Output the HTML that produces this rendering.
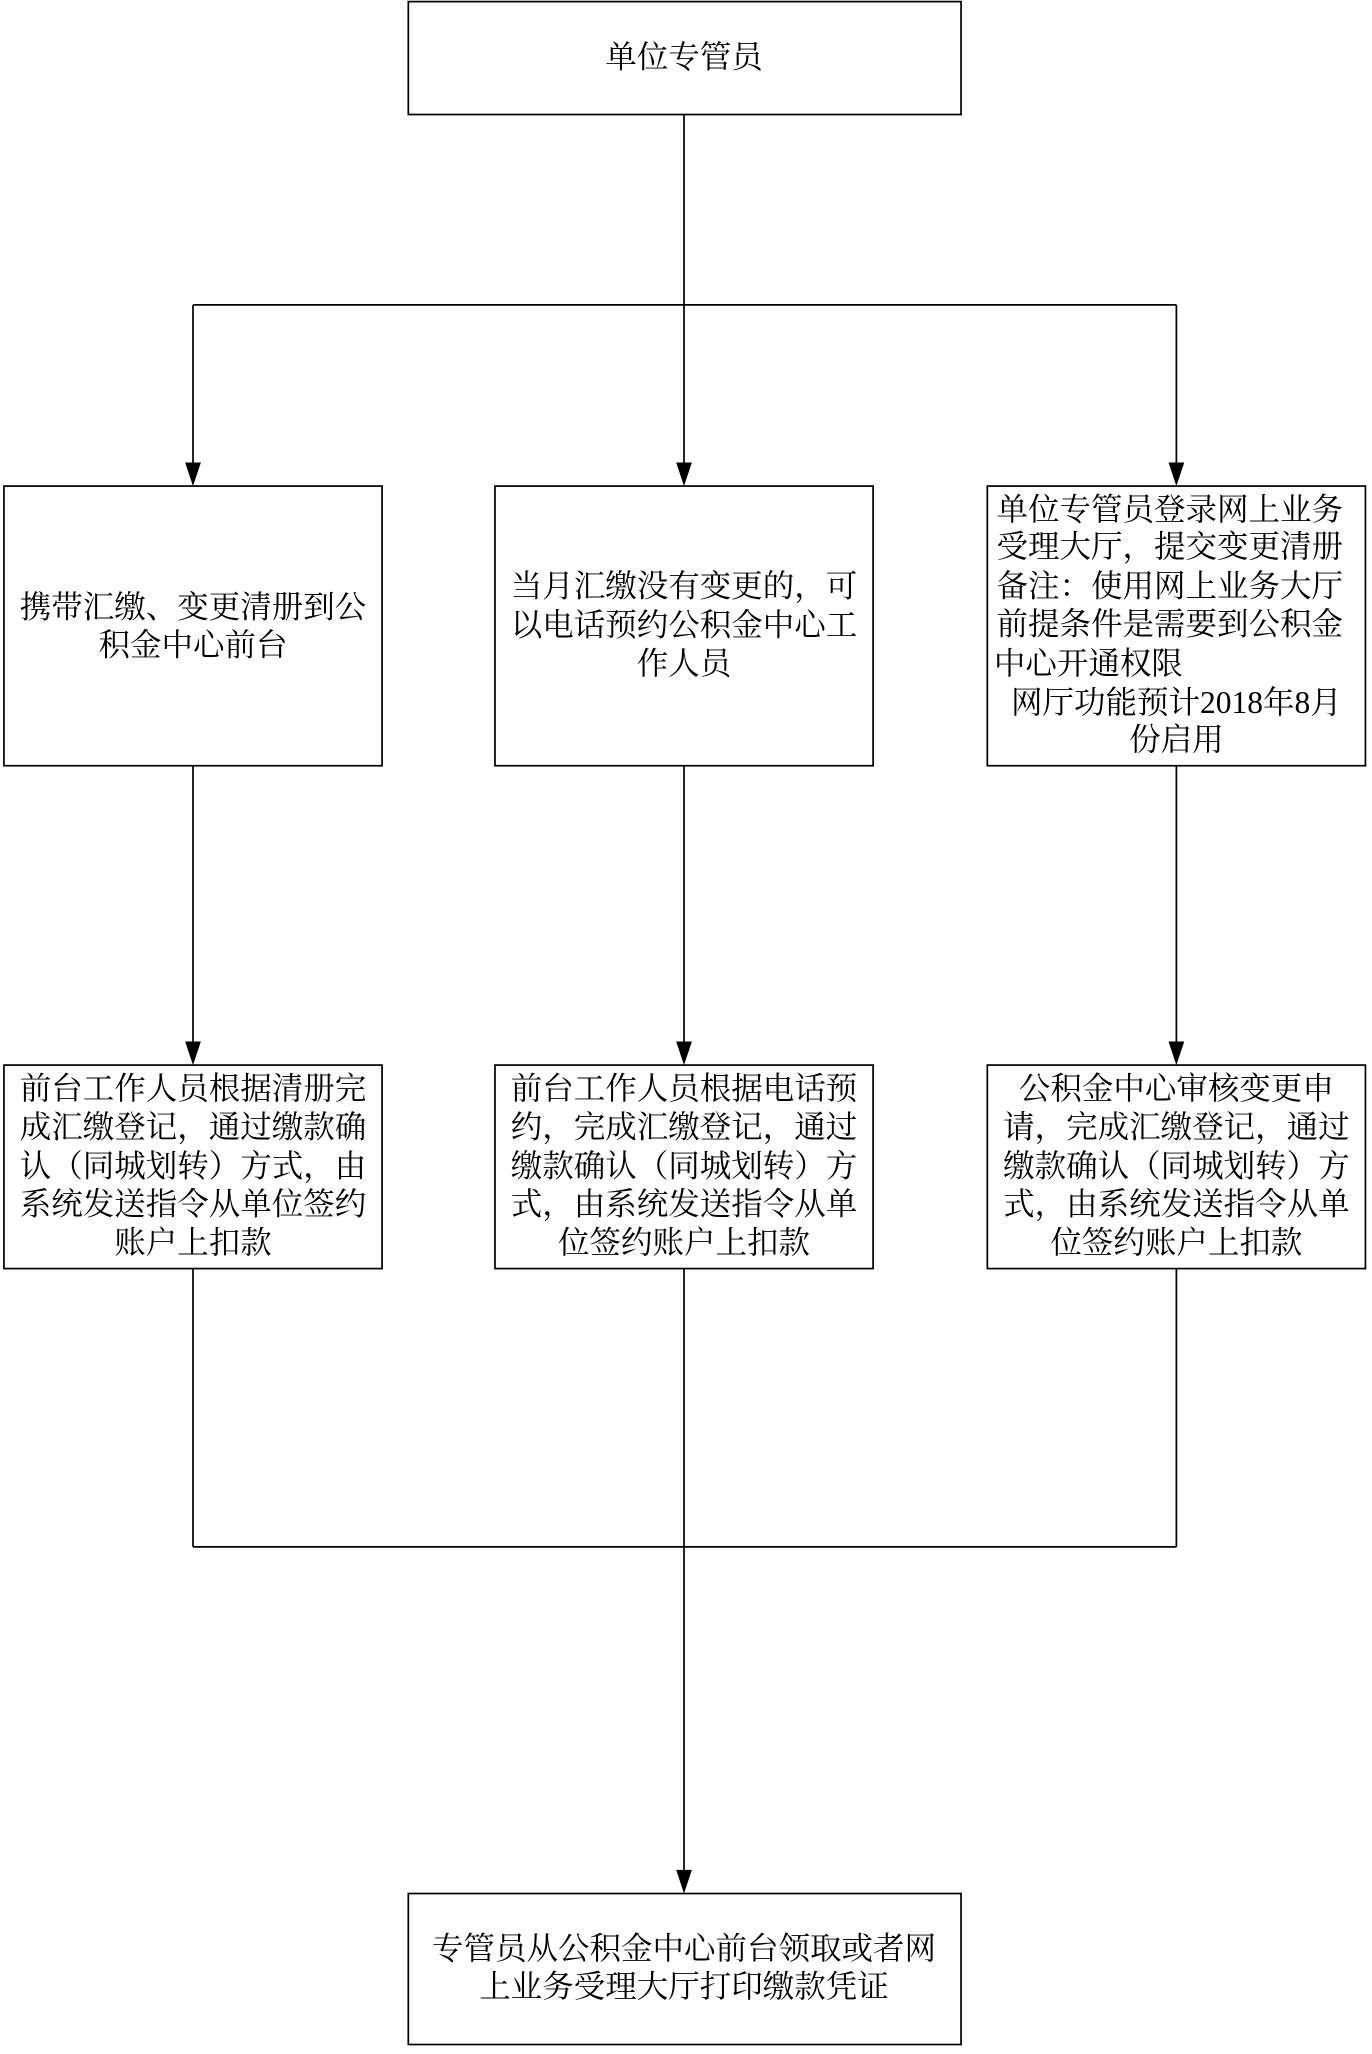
<!DOCTYPE html>
<html><head><meta charset="utf-8"><style>
html,body{margin:0;padding:0;background:#fff;}
svg{display:block;}
text{font-family:"Liberation Serif","Noto Serif CJK SC",serif;font-size:24px;fill:#000;}
</style></head><body>
<svg width="1372" height="2054" viewBox="0 0 1045 1564" xmlns="http://www.w3.org/2000/svg">
<g fill="none" stroke="#000" stroke-width="1.3">
<rect x="311" y="1" width="421" height="86"/>
<rect x="3" y="370" width="288" height="213"/>
<rect x="377" y="370" width="288" height="213"/>
<rect x="752" y="370" width="288" height="213"/>
<rect x="3" y="811" width="288" height="155"/>
<rect x="377" y="811" width="288" height="155"/>
<rect x="752" y="811" width="288" height="155"/>
<rect x="311" y="1442" width="421" height="115"/>
<path d="M521,87 V232 M147,232 H896 M147,232 V352 M521,232 V352 M896,232 V352"/>
<path d="M147,583 V793 M521,583 V793 M896,583 V793"/>
<path d="M147,966 V1178 M521,966 V1178 M896,966 V1178 M147,1178 H896 M521,1178 V1424"/>
</g>
<g fill="#000">
<path d="M141,352 L153,352 L147,370 Z"/><path d="M515,352 L527,352 L521,370 Z"/><path d="M890,352 L902,352 L896,370 Z"/>
<path d="M141,793 L153,793 L147,811 Z"/><path d="M515,793 L527,793 L521,811 Z"/><path d="M890,793 L902,793 L896,811 Z"/>
<path d="M515,1424 L527,1424 L521,1442 Z"/>
</g>
<g text-anchor="middle">
<text x="521" y="51">单位专管员</text>
<text x="147" y="470">携带汇缴、变更清册到公</text>
<text x="147" y="499">积金中心前台</text>
<text x="521" y="454">当月汇缴没有变更的，可</text>
<text x="521" y="484">以电话预约公积金中心工</text>
<text x="521" y="513">作人员</text>
<text x="891" y="396">单位专管员登录网上业务</text>
<text x="891" y="424">受理大厅，提交变更清册</text>
<text x="891" y="454">备注：使用网上业务大厅</text>
<text x="891" y="483">前提条件是需要到公积金</text>
<text x="896" y="543">网厅功能预计2018年8月</text>
<text x="896" y="571">份启用</text>
<text x="147" y="837">前台工作人员根据清册完</text>
<text x="147" y="866">成汇缴登记，通过缴款确</text>
<text x="147" y="896">认（同城划转）方式，由</text>
<text x="147" y="925">系统发送指令从单位签约</text>
<text x="147" y="954">账户上扣款</text>
<text x="521" y="837">前台工作人员根据电话预</text>
<text x="521" y="866">约，完成汇缴登记，通过</text>
<text x="521" y="896">缴款确认（同城划转）方</text>
<text x="521" y="925">式，由系统发送指令从单</text>
<text x="521" y="954">位签约账户上扣款</text>
<text x="896" y="837">公积金中心审核变更申</text>
<text x="896" y="866">请，完成汇缴登记，通过</text>
<text x="896" y="896">缴款确认（同城划转）方</text>
<text x="896" y="925">式，由系统发送指令从单</text>
<text x="896" y="954">位签约账户上扣款</text>
<text x="521" y="1492">专管员从公积金中心前台领取或者网</text>
<text x="521" y="1521">上业务受理大厅打印缴款凭证</text>
</g>
<text x="757" y="513">中心开通权限</text>
</svg>
</body></html>
